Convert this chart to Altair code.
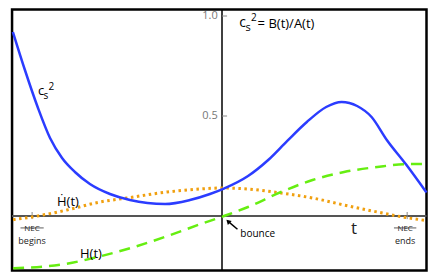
import altair as alt
import pandas as pd

# ---- data (t: time axis, value: vertical axis) ----
cs2_t = [-0.991, -0.934, -0.872, -0.815, -0.758, -0.697, -0.626, -0.531, -0.436, -0.27, -0.152, -0.057, 0.009,
         0.128, 0.227, 0.322, 0.417, 0.512, 0.588, 0.664, 0.735, 0.81, 0.905, 1.005]
cs2_v = [0.92, 0.73, 0.54, 0.39, 0.29, 0.22, 0.16, 0.11, 0.08, 0.06, 0.08, 0.11, 0.137,
         0.20, 0.28, 0.377, 0.47, 0.545, 0.57, 0.55, 0.495, 0.38, 0.257, 0.117]

hdot_t = [-0.99, -0.9, -0.735, -0.578, -0.45, -0.26, -0.104, 0.0, 0.128, 0.29, 0.445, 0.6, 0.763, 0.886, 1.005]
hdot_v = [-0.02, -0.005, 0.03, 0.07, 0.09, 0.12, 0.135, 0.14, 0.135, 0.115, 0.09, 0.055, 0.02, -0.005, -0.025]

h_t = [-0.99, -0.735, -0.578, -0.42, -0.26, -0.104, 0.01, 0.128, 0.29, 0.445, 0.6, 0.763, 0.92, 1.005]
h_v = [-0.285, -0.26, -0.22, -0.17, -0.11, -0.045, 0.0, 0.045, 0.12, 0.18, 0.22, 0.245, 0.26, 0.26]

ytick_values = [1.0, 0.5]
ytick_labels = ["1.0", "0.5"]
nec_ticks = [-0.9, 0.91]

# annotation texts
left_texts = ["c", "s", "2", "c", "s", "2", "= B(t)/A(t)", "Ḣ(t)", "H(t)", "bounce"]
left_t = [-0.872, -0.846, -0.822, 0.085, 0.116, 0.142, 0.175, -0.782, -0.673, 0.09]
left_v = [0.606, 0.586, 0.632, 0.945, 0.925, 0.975, 0.94, 0.052, -0.227, -0.117]
left_size = [13, 10, 10, 14, 11, 10, 13, 13, 13, 10]

center_texts = ["NEC", "begins", "NEC", "ends", "t"]
center_t = [-0.9, -0.9, 0.9, 0.9, 0.649]
center_v = [-0.082, -0.153, -0.082, -0.153, -0.097]
center_size = [8, 9, 8, 9, 17]

# piecewise scales so that the whole figure fits the page
xs = alt.Scale(domain=[-1.0142, 0.0, 1.005], range=[0, 214, 418.5], nice=False, zero=False)
ys = alt.Scale(domain=[-0.297, 0.0, 1.0, 1.04], range=[262.5, 208, 8, 0], nice=False, zero=False)
X = lambda f: alt.X(f, type="quantitative", scale=xs, axis=None)
Y = lambda f: alt.Y(f, type="quantitative", scale=ys, axis=None)

cs2 = pd.DataFrame({"t": cs2_t, "v": cs2_v})
hdot = pd.DataFrame({"t": hdot_t, "v": hdot_v})
hh = pd.DataFrame({"t": h_t, "v": h_v})

frame = pd.DataFrame({"x": [-0.995], "x2": [1.005], "y": [-0.297], "y2": [1.032]})
hax = pd.DataFrame({"x": [-0.995], "x2": [1.005], "y": [0.0]})
vax = pd.DataFrame({"x": [0.0], "y": [-0.297], "y2": [1.032]})
yt = pd.DataFrame({"x": [0.0] * 2, "x2": [0.025] * 2, "y": ytick_values, "lab": ytick_labels, "lx": [-0.02] * 2})
nt = pd.DataFrame({"x": nec_ticks, "y": [0.02] * 2, "y2": [-0.017] * 2})
strike = pd.DataFrame({"x": [-0.955, 0.845], "x2": [-0.845, 0.955], "y": [-0.065, -0.065]})
arrow = pd.DataFrame({"x": [0.076], "y": [-0.072], "x2": [0.03], "y2": [-0.029]})
ltxt = pd.DataFrame({"t": left_t, "v": left_v, "txt": left_texts, "s": left_size})
ctxt = pd.DataFrame({"t": center_t, "v": center_v, "txt": center_texts, "s": center_size})

FONT = "Open Sans"

layers = [
    alt.Chart(frame).mark_rect(filled=False, stroke="black", strokeWidth=2.5).encode(
        x=X("x"), x2="x2", y=Y("y"), y2="y2"),
    alt.Chart(hax).mark_rule(color="#555555", strokeWidth=2).encode(x=X("x"), x2="x2", y=Y("y")),
    alt.Chart(vax).mark_rule(color="black", strokeWidth=1.5).encode(x=X("x"), y=Y("y"), y2="y2"),
    alt.Chart(yt).mark_rule(color="#888888", strokeWidth=1).encode(x=X("x"), x2="x2", y=Y("y")),
    alt.Chart(yt).mark_text(align="right", baseline="middle", font=FONT, fontSize=11, color="#777777").encode(
        x=X("lx"), y=Y("y"), text="lab"),
    alt.Chart(nt).mark_rule(color="#888888", strokeWidth=1).encode(x=X("x"), y=Y("y"), y2="y2"),
    alt.Chart(strike).mark_rule(color="#333333", strokeWidth=0.8).encode(x=X("x"), x2="x2", y=Y("y")),
    alt.Chart(hdot).mark_line(color="#f0a010", strokeWidth=3, strokeDash=[2.5, 3.5], interpolate="monotone").encode(
        x=X("t"), y=Y("v")),
    alt.Chart(hh).mark_line(color="#66ee11", strokeWidth=2.5, strokeDash=[11, 7], interpolate="monotone").encode(
        x=X("t"), y=Y("v")),
    alt.Chart(cs2).mark_line(color="#2b3cff", strokeWidth=2.5, interpolate="monotone").encode(
        x=X("t"), y=Y("v")),
    alt.Chart(arrow).mark_rule(color="black", strokeWidth=1.5).encode(x=X("x"), x2="x2", y=Y("y"), y2="y2"),
    alt.Chart(arrow).mark_point(shape="triangle-up", filled=True, color="black", size=30, angle=315, opacity=1).encode(
        x=X("x2"), y=Y("y2")),
    alt.Chart(ltxt).mark_text(align="left", baseline="alphabetic", font=FONT, color="black").encode(
        x=X("t"), y=Y("v"), text="txt", size=alt.Size("s:Q", scale=None)),
    alt.Chart(ctxt).mark_text(align="center", baseline="alphabetic", font=FONT, color="#222222").encode(
        x=X("t"), y=Y("v"), text="txt", size=alt.Size("s:Q", scale=None)),
]

chart = alt.layer(*layers).properties(
    width=420, height=264, padding=0, autosize=alt.AutoSizeParams(type="none")
).configure_view(stroke=None)

chart.save("out.html", embed_options={"renderer": "svg", "actions": False})
